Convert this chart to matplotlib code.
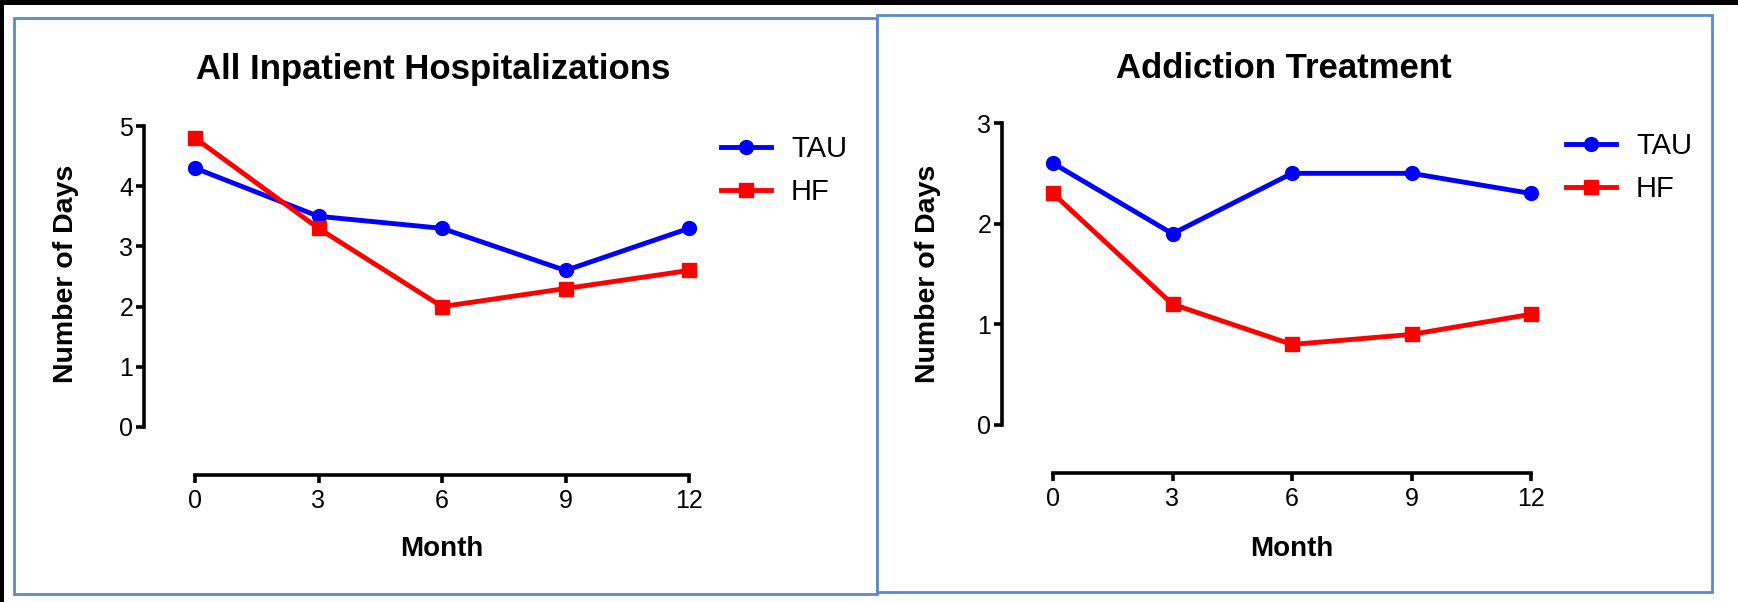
import matplotlib
matplotlib.use('Agg')
import matplotlib.pyplot as plt
from matplotlib.patches import Rectangle

# data
months = [0, 3, 6, 9, 12]
inpatient_tau = [4.3, 3.5, 3.3, 2.6, 3.3]
inpatient_hf = [4.8, 3.3, 2.0, 2.3, 2.6]
addiction_tau = [2.6, 1.9, 2.5, 2.5, 2.3]
addiction_hf = [2.3, 1.2, 0.8, 0.9, 1.1]
series_labels = ['TAU', 'HF']
panel_titles = ['All Inpatient Hospitalizations', 'Addiction Treatment']
y_maxes = [5, 3]

W, H = 1738, 602
plt.rcParams['font.family'] = ['Liberation Sans', 'DejaVu Sans']

fig = plt.figure(figsize=(W / 100, H / 100), dpi=100)
fig.patch.set_facecolor('white')


def fx(px):
    return px / W


def fy(py):
    # pixel rows count from the top
    return 1 - py / H


def box(x0, y0, x1, y1, **kw):
    r = Rectangle((fx(x0), fy(y1)), fx(x1 - x0), (y1 - y0) / H,
                  transform=fig.transFigure, zorder=-10, **kw)
    fig.add_artist(r)


# black strips at top/left edge, then the two framed panels
box(0, 0, W, 5, facecolor='black', edgecolor='none')
box(0, 0, 4, H, facecolor='black', edgecolor='none')
box(14, 18, 877, 594, facecolor='white', edgecolor='#5b8ac8', linewidth=2)
box(877, 14.5, 1712, 592, facecolor='white', edgecolor='#5b8ac8', linewidth=2)

# axes boxes in pixels: x at month 0 / 12, y at top value / 0
layouts = [
    dict(x0=195, x1=689, ytop=126, ybot=427, title_x=433, ylab_x=66,
         month_x=442, leg_x=721, leg_y=170.5),
    dict(x0=1053, x1=1531, ytop=123, ybot=425, title_x=1284, ylab_x=928,
         month_x=1292, leg_x=1566, leg_y=167.5),
]
series = [(inpatient_tau, inpatient_hf), (addiction_tau, addiction_hf)]

for lay, (tau, hf), title, ymax in zip(layouts, series, panel_titles, y_maxes):
    ax = fig.add_axes([fx(lay['x0']), fy(lay['ybot']),
                       fx(lay['x1'] - lay['x0']), (lay['ybot'] - lay['ytop']) / H])
    ax.patch.set_alpha(0)
    l1, = ax.plot(months, tau, color='#0000ff', marker='o', markersize=10,
                  linewidth=3.5, clip_on=False)
    l2, = ax.plot(months, hf, color='#ff0000', marker='s', markersize=9.5,
                  linewidth=3.5, clip_on=False)
    ax.set_xlim(0, 12)
    ax.set_ylim(0, ymax)
    ax.set_xticks(months)
    ax.set_yticks(range(ymax + 1))

    for side in ['top', 'right']:
        ax.spines[side].set_visible(False)
    ax.spines['left'].set_position(('outward', 36.5))
    ax.spines['bottom'].set_position(('outward', 34.5))
    ax.spines['left'].set_bounds(0, ymax)
    ax.spines['bottom'].set_bounds(0, 12)
    for side in ['left', 'bottom']:
        ax.spines[side].set_linewidth(2.6)
    ax.tick_params(axis='both', direction='out', length=6, width=2.6,
                   labelsize=18, pad=2)
    ax.tick_params(axis='x', pad=4)

    fig.text(fx(lay['title_x']), fy(78.5), title, ha='center', va='baseline',
             fontsize=25, fontweight='bold')
    fig.text(fx(lay['ylab_x']), fy(274), 'Number of Days', rotation=90,
             ha='center', va='center', fontsize=20.5, fontweight='bold')
    fig.text(fx(lay['month_x']), fy(556.5), 'Month', ha='center',
             va='baseline', fontsize=20, fontweight='bold')

    ax.legend([l1, l2], series_labels, loc='center left',
              bbox_to_anchor=(fx(lay['leg_x']), fy(lay['leg_y'])),
              bbox_transform=fig.transFigure, frameon=False, fontsize=21,
              numpoints=1, handlelength=1.7, handletextpad=0.7,
              labelspacing=0.52, borderpad=0, borderaxespad=0)

fig.savefig('out.png', dpi=100, facecolor=fig.get_facecolor())
